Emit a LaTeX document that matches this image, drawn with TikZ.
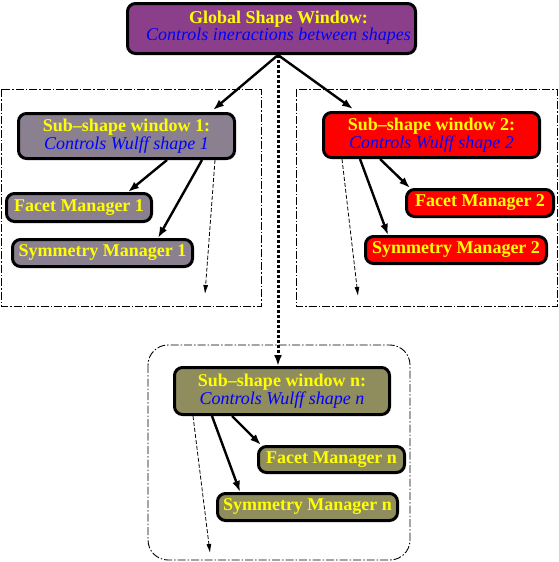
\documentclass[tikz,border=0pt]{standalone}
\usepackage{fontspec}
\setmainfont{Liberation Serif}
\usetikzlibrary{arrows.meta}
\definecolor{gpurple}{RGB}{139,63,139}
\definecolor{sgray}{RGB}{139,128,144}
\definecolor{solive}{RGB}{143,140,94}
\definecolor{tyellow}{RGB}{255,255,0}
\definecolor{tblue}{RGB}{0,0,255}
\tikzset{
  box/.style={draw=black, line width=3pt, rounded corners=8pt, inner sep=0pt,
    font=\fontsize{18}{16}\selectfont\bfseries, text=tyellow, align=center},
  frame/.style={draw=black, line width=0.9pt, dash pattern=on 8pt off 2pt on 1.5pt off 2pt},
  solidarrow/.style={draw=black, line width=2.4pt, -{Latex[length=11pt,width=8pt]}},
  dasharrow/.style={draw=black, line width=0.8pt, dash pattern=on 4pt off 2pt, -{Latex[length=9pt,width=5pt]}},
  dotarrow/.style={draw=black, line width=3pt, dash pattern=on 3pt off 2pt, -{Latex[length=11pt,width=8pt]}},
  boxtext/.style={font=\fontsize{18}{16}\selectfont\bfseries, text=tyellow, align=center, inner sep=0pt}
}
\begin{document}
\begin{tikzpicture}[x=1pt,y=-1pt]
\useasboundingbox (0,0) rectangle (558,562);
% frames
\draw[frame] (1,89) rectangle (261,306);
\draw[frame] (296,89) rectangle (557,306);
\draw[frame, rounded corners=20pt] (148,345) rectangle (410,560);
% global
\node[box, fill=gpurple, minimum width=288pt, minimum height=50pt] (g) at (271.5,28.5) {};
\node[boxtext] (gt) at (278.5,28) {Global Shape Window:\\{\itshape\mdseries\color{tblue}Controls ineractions between shapes}};
% window 1
\node[box, fill=sgray, minimum width=216pt, minimum height=45pt] (s1) at (126.5,136) {Sub–shape window 1:\\{\itshape\mdseries\color{tblue}Controls Wulff shape 1}};
\node[box, fill=sgray, minimum width=145pt, minimum height=28pt] (f1) at (79,207.5) {Facet Manager 1};
\node[box, fill=sgray, minimum width=180pt, minimum height=27pt] (y1) at (102.5,253) {Symmetry Manager 1};
% window 2
\node[box, fill=red, minimum width=216pt, minimum height=45pt] (s2) at (431.5,135) {Sub–shape window 2:\\{\itshape\mdseries\color{tblue}Controls Wulff shape 2}};
\node[box, fill=red, minimum width=147pt, minimum height=27pt] (f2) at (480,203) {Facet Manager 2};
\node[box, fill=red, minimum width=181pt, minimum height=27pt] (y2) at (456,250) {Symmetry Manager 2};
% window n
\node[box, fill=solive, minimum width=215pt, minimum height=47pt] (sn) at (282,391) {Sub–shape window n:\\{\itshape\mdseries\color{tblue}Controls Wulff shape n}};
\node[box, fill=solive, minimum width=146pt, minimum height=26pt] (fn) at (331.5,459.5) {Facet Manager n};
\node[box, fill=solive, minimum width=180pt, minimum height=27pt] (yn) at (307.5,507) {Symmetry Manager n};
% free ends of dashed arrows
\coordinate (d1) at (205,294);
\coordinate (d2) at (358,296);
\coordinate (dn) at (210,553);
% global connectors
\coordinate (g0) at ([xshift=6.5pt]g.south);
\draw[solidarrow] (g0) -- ([xshift=86.5pt,yshift=2pt]s1.north);
\draw[solidarrow] (g0) -- ([xshift=-78.5pt,yshift=2pt]s2.north);
\draw[dotarrow] (g0) -- (g0 |- sn.north);
% window 1 connectors
\draw[solidarrow] ([xshift=40.5pt]s1.south) -- ([xshift=49pt]f1.north);
\draw[solidarrow] ([xshift=75.5pt]s1.south) -- ([xshift=55.5pt]y1.north);
\draw[dasharrow] ([xshift=88.5pt]s1.south) -- (d1);
% window 2 connectors
\draw[solidarrow] ([xshift=-51.5pt]s2.south) -- ([xshift=-70pt]f2.north);
\draw[solidarrow] ([xshift=-71.5pt]s2.south) -- ([xshift=-68pt]y2.north);
\draw[dasharrow] ([xshift=-89.5pt]s2.south) -- (d2);
% window n connectors
\draw[solidarrow] ([xshift=-50pt]sn.south) -- ([xshift=-70.5pt]fn.north);
\draw[solidarrow] ([xshift=-70pt]sn.south) -- ([xshift=-67.5pt]yn.north);
\draw[dasharrow] ([xshift=-89pt]sn.south) -- (dn);
\end{tikzpicture}
\end{document}
